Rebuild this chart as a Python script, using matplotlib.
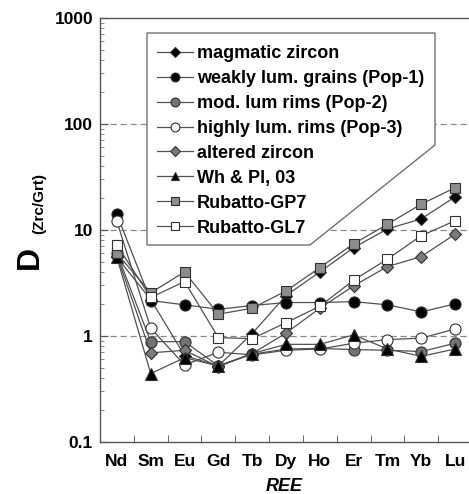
import matplotlib
matplotlib.use("Agg")
import matplotlib.pyplot as plt
from matplotlib.patches import Polygon
import numpy as np

plt.rcParams['font.family'] = ['Liberation Sans', 'DejaVu Sans']
plt.rcParams['font.weight'] = 'bold'

# REE on the x axis
elements = ["Nd", "Sm", "Eu", "Gd", "Tb", "Dy", "Ho", "Er", "Tm", "Yb", "Lu"]

# D(Zrc/Grt)
magmatic = [5.5, 2.2, 0.65, 0.52, 1.05, 2.4, 4.0, 6.8, 10.2, 12.7, 20.5]
pop1 = [14.0, 2.15, 1.96, 1.78, 1.93, 2.06, 2.06, 2.1, 1.96, 1.68, 2.0]
pop2 = [6.0, 0.88, 0.88, 0.52, 0.67, 0.75, 0.76, 0.74, 0.73, 0.71, 0.85]
pop3 = [12.0, 1.18, 0.53, 0.70, 0.66, 0.73, 0.75, 0.85, 0.92, 0.95, 1.16]
altered = [5.7, 0.69, 0.73, 0.51, 0.68, 1.06, 1.82, 2.96, 4.5, 5.6, 9.1]
wh_pl = [5.5, 0.44, 0.62, 0.52, 0.68, 0.83, 0.83, 1.02, 0.75, 0.64, 0.75]
gp7 = [6.0, 2.55, 4.0, 1.6, 1.82, 2.65, 4.4, 7.4, 11.3, 17.5, 25.0]
gl7 = [7.2, 2.3, 3.25, 0.96, 0.94, 1.33, 1.9, 3.35, 5.3, 8.8, 12.2]

labels = ["magmatic zircon", "weakly lum. grains (Pop-1)", "mod. lum rims (Pop-2)",
          "highly lum. rims (Pop-3)", "altered zircon", "Wh & Pl, 03",
          "Rubatto-GP7", "Rubatto-GL7"]

W, H = 469, 494
fig = plt.figure(figsize=(W / 100, H / 100), dpi=100)
ax = fig.add_axes([100 / W, 1 - 441.7 / H, 1 - 100 / W, (441.7 - 18) / H])

x = np.arange(len(elements))
line_col = "#505050"
styles = [
    (magmatic, "D", "black", 6.5),
    (pop1, "o", "black", 8),
    (pop2, "o", "#727272", 8),
    (pop3, "o", "white", 8),
    (altered, "D", "#7a7a7a", 6.5),
    (wh_pl, "^", "black", 8),
    (gp7, "s", "#8c8c8c", 7.5),
    (gl7, "s", "white", 7.5),
]
for (vals, mk, fc, ms), lab in zip(styles, labels):
    ax.plot(x, vals, color=line_col, lw=0.9, marker=mk, ms=ms, mfc=fc,
            mec="#303030", mew=0.8, label=lab, zorder=3)

ax.set_yscale("log")
ax.set_ylim(0.1, 1000)
ax.set_xlim(-0.5, 10.41)

for v in [1, 10, 100]:
    ax.axhline(v, color="#8a8a8a", lw=0.9, ls=(0, (5, 3)), zorder=1)

ax.set_xticks(x)
ax.set_xticklabels(elements, fontsize=12.5, fontweight="bold")
ax.set_xticks(x[:-1] + 0.5, minor=True)
ax.tick_params(axis="x", which="major", length=0, pad=9)
ax.tick_params(axis="x", which="minor", direction="in", length=5, color="#555555")
ax.set_yticks([0.1, 1, 10, 100, 1000])
ax.set_yticklabels(["0.1", "1", "10", "100", "1000"], fontsize=12.5, fontweight="bold")
ax.tick_params(axis="y", which="major", direction="in", length=6, color="#555555", pad=5)
ax.tick_params(axis="y", which="minor", direction="in", length=3, color="#777777")
ax.spines["right"].set_visible(False)
for s in ["left", "top", "bottom"]:
    ax.spines[s].set_color("#555555")
    ax.spines[s].set_linewidth(1.0)

ax.set_xlabel("REE", fontsize=13, fontweight="bold", fontstyle="italic", labelpad=6)

fig.text(30 / W, 1 - 257 / H, "D", fontsize=23, fontweight="bold", rotation=90,
         ha="center", va="center")
fig.text(39 / W, 1 - 203 / H, "(Zrc/Grt)", fontsize=11, fontweight="bold", rotation=90,
         ha="center", va="center")

# legend box with the cut corner
corners = [(147, 33), (435, 33), (435, 145), (310, 245), (147, 245)]
poly = Polygon([(px / W, 1 - py / H) for px, py in corners], closed=True,
               transform=fig.transFigure, facecolor="white", edgecolor="#707070",
               lw=1.0, zorder=4.5)
ax.add_patch(poly)

leg = ax.legend(loc="upper left", bbox_to_anchor=(157 / W, 1 - 45 / H),
                bbox_transform=fig.transFigure, frameon=False, fontsize=13,
                borderpad=0, borderaxespad=0, handlelength=2.0, handletextpad=0.2,
                labelspacing=0.44, markerscale=0.8)
leg.set_zorder(5)

fig.savefig("out.png", dpi=100)
